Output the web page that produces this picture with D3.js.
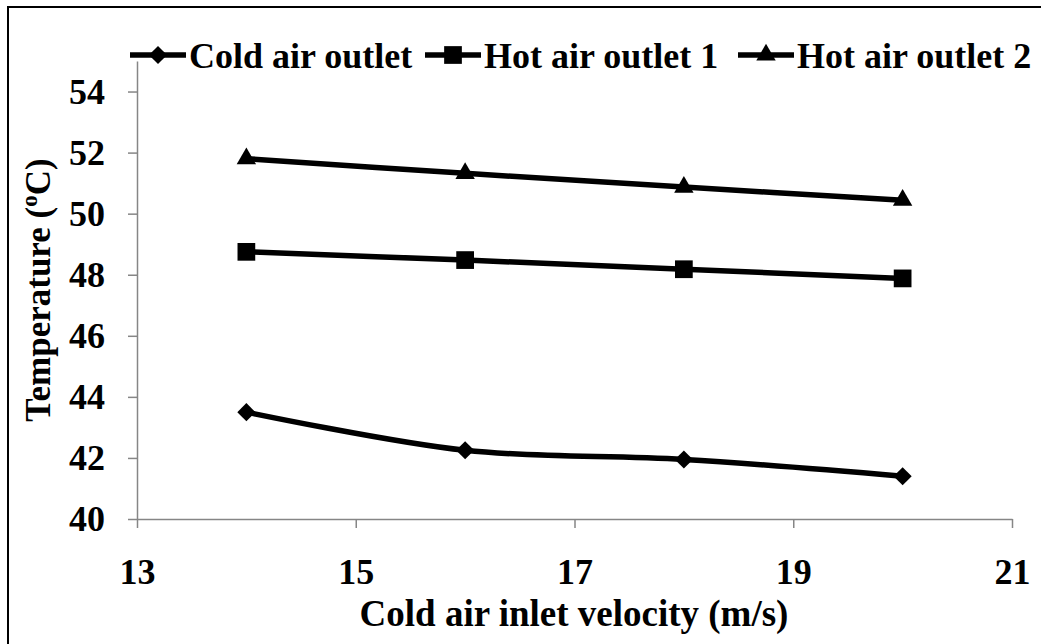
<!DOCTYPE html>
<html>
<head>
<meta charset="utf-8">
<script src="https://cdn.jsdelivr.net/npm/d3@7"></script>
<style>
  body { margin: 0; background: #fff; }
  text { font-family: "Liberation Serif", "Times New Roman", serif; font-weight: bold; fill: #000; }
</style>
</head>
<body>
<div id="chart"></div>
<script>
// data
const velocity = [14, 16, 18, 20];
const coldOutlet = [43.5, 42.25, 41.95, 41.4];
const hotOutlet1 = [48.75, 48.48, 48.18, 47.88];
const hotOutlet2 = [51.8, 51.32, 50.87, 50.44];
const xTicks = [13, 15, 17, 19, 21];
const yTicks = [40, 42, 44, 46, 48, 50, 52, 54];
const seriesNames = ["Cold air outlet", "Hot air outlet 1", "Hot air outlet 2"];

const width = 1041, height = 644;
const margin = { left: 137, right: 29, top: 61, bottom: 125 };
const serif = '"Liberation Serif", "Times New Roman", serif';

const svg = d3.select("#chart").append("svg").attr("width", width).attr("height", height);

// outer frame (cut off at the right and bottom like the reference)
svg.append("rect").attr("x", 8).attr("y", 7).attr("width", 1100).attr("height", 700)
  .attr("fill", "none").attr("stroke", "#000").attr("stroke-width", 2);

const xScale = d3.scaleLinear().domain([13, 21]).range([margin.left, width - margin.right]);
const yScale = d3.scaleLinear().domain([40, 55]).range([height - margin.bottom, margin.top]);

const xAxis = svg.append("g").attr("transform", "translate(0," + yScale(40) + ")")
  .call(d3.axisBottom(xScale).tickValues(xTicks).tickSize(9).tickSizeOuter(0).tickPadding(30));
const yAxis = svg.append("g").attr("transform", "translate(" + xScale(13) + ",0)")
  .call(d3.axisLeft(yScale).tickValues(yTicks).tickSize(9).tickSizeOuter(0).tickPadding(23));

[xAxis, yAxis].forEach(ax => {
  ax.attr("font-family", null).attr("font-size", null);
  ax.select(".domain").attr("stroke", "#868686").attr("stroke-width", 1.5);
  ax.selectAll(".tick line").attr("stroke", "#868686").attr("stroke-width", 1.5);
  ax.selectAll("text").style("font-family", serif).style("font-weight", "bold")
    .style("font-size", "36px").attr("fill", "#000");
});
xAxis.selectAll("text").attr("dy", "0.71em");

// axis titles
svg.append("text").attr("x", 574).attr("y", 626).attr("text-anchor", "middle")
  .style("font-size", "37px").text("Cold air inlet velocity (m/s)");

const yTitle = svg.append("text").attr("transform", "translate(50,290) rotate(-90)")
  .attr("text-anchor", "middle").style("font-size", "35px");
yTitle.append("tspan").text("Temperature (");
yTitle.append("tspan").style("font-size", "23px").attr("dy", -13).text("o");
yTitle.append("tspan").attr("dy", 13).text("C)");

const series = [
  { name: seriesNames[0], values: coldOutlet, symbol: d3.symbolDiamond2, size: 210 },
  { name: seriesNames[1], values: hotOutlet1, symbol: d3.symbolSquare2, size: 400 },
  { name: seriesNames[2], values: hotOutlet2, symbol: d3.symbolTriangle2, size: 270 }
];

const line = d3.line().curve(d3.curveCatmullRom.alpha(0.5))
  .x(d => xScale(d[0])).y(d => yScale(d[1]));

series.forEach(s => {
  const pts = velocity.map((v, i) => [v, s.values[i]]);
  svg.append("path").attr("d", line(pts)).attr("fill", "none")
    .attr("stroke", "#000").attr("stroke-width", 5.5);
  svg.selectAll(null).data(pts).enter().append("path")
    .attr("transform", d => "translate(" + xScale(d[0]) + "," + yScale(d[1]) + ")")
    .attr("d", d3.symbol().type(s.symbol).size(s.size))
    .attr("fill", "#000");
});

// legend
const legendX = [130, 425, 738];
const legend = svg.append("g").attr("transform", "translate(0,55)");
series.forEach((s, i) => {
  const g = legend.append("g").attr("transform", "translate(" + legendX[i] + ",0)");
  g.append("line").attr("x1", 0).attr("x2", 56).attr("stroke", "#000").attr("stroke-width", 5.5);
  g.append("path").attr("transform", "translate(28,0)")
    .attr("d", d3.symbol().type(s.symbol).size(s.size)).attr("fill", "#000");
  g.append("text").attr("x", 59).attr("dy", "0.35em").style("font-size", "36px").text(s.name);
});
</script>
</body>
</html>
